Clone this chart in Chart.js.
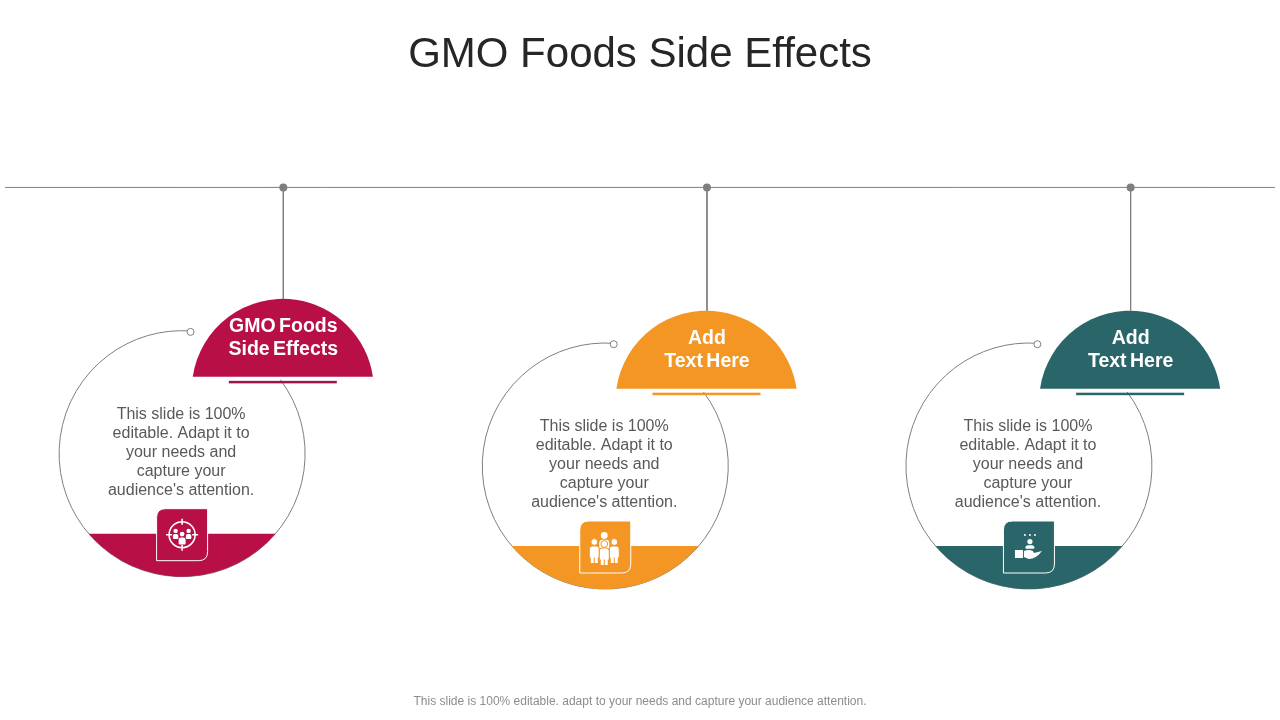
<!DOCTYPE html>
<html>
<head>
<meta charset="utf-8">
<title>GMO Foods Side Effects</title>
<script src="https://cdn.jsdelivr.net/npm/chart.js@4"></script>
<style>
  html, body { margin: 0; padding: 0; background: #fff; }
  canvas { display: block; }
</style>
</head>
<body>
<canvas id="slide" width="1280" height="720"></canvas>
<script>
const chartTitle = "GMO Foods Side Effects";
const footerText = "This slide is 100% editable. adapt to your needs and capture your audience attention.";

// One entry per hanging item
const headings = [["GMO Foods", "Side Effects"], ["Add", "Text Here"], ["Add", "Text Here"]];
const bodyLines = ["This slide is 100%", "editable. Adapt it to", "your needs and", "capture your", "audience's attention."];
const colors = ["#B80F47", "#F39623", "#2A6669"];
const barColors = ["#9E1549", "#F39623", "#2A6669"];

const hangX = [280.5, 707.5, 1134.5];
const hangEndY = [298, 310, 310];
const ringX = [178.5, 605, 1032];
const ringY = [455, 467.5, 467.5];
const ringGapX = [187, 613.5, 1040.5];
const ringGapY = [331.5, 344, 344];
const timelineX = [0, 1280];
const timelineY = [185, 185];

const gray = "#7F7F7F";
const ringR = 123;

function roundedTile(ctx, x, y, w, h, r) {
  ctx.beginPath();
  ctx.moveTo(x + r, y);
  ctx.lineTo(x + w, y);
  ctx.lineTo(x + w, y + h - r);
  ctx.quadraticCurveTo(x + w, y + h, x + w - r, y + h);
  ctx.lineTo(x, y + h);
  ctx.lineTo(x, y + r);
  ctx.quadraticCurveTo(x, y, x + r, y);
  ctx.closePath();
}

function person(ctx, cx, top, headR, bodyW, bodyH) {
  ctx.beginPath();
  ctx.arc(cx, top + headR, headR, 0, Math.PI * 2);
  ctx.fill();
  ctx.beginPath();
  ctx.roundRect(cx - bodyW / 2, top + headR * 2 + 1, bodyW, bodyH, [bodyW / 3, bodyW / 3, 1, 1]);
  ctx.fill();
}

function targetIcon(ctx, cx, cy) {
  ctx.strokeStyle = "#fff";
  ctx.lineWidth = 1.6;
  ctx.beginPath();
  ctx.arc(cx, cy, 13, 0, Math.PI * 2);
  ctx.moveTo(cx, cy - 16); ctx.lineTo(cx, cy - 10);
  ctx.moveTo(cx, cy + 10); ctx.lineTo(cx, cy + 16);
  ctx.moveTo(cx - 16, cy); ctx.lineTo(cx - 10, cy);
  ctx.moveTo(cx + 10, cy); ctx.lineTo(cx + 16, cy);
  ctx.stroke();
  ctx.fillStyle = "#fff";
  person(ctx, cx - 6.5, cy - 6, 2.2, 5.5, 5);
  person(ctx, cx + 6.5, cy - 6, 2.2, 5.5, 5);
  person(ctx, cx, cy - 3, 2.4, 7, 7);
}

function teamIcon(ctx, cx, cy, tile) {
  ctx.fillStyle = "#fff";
  person(ctx, cx, cy - 15, 3.4, 10, 9);
  ctx.strokeStyle = tile;
  ctx.lineWidth = 1;
  [[-10, -8], [10, -8], [0, -6]].forEach(([dx, dy]) => {
    ctx.beginPath();
    ctx.arc(cx + dx, cy + dy + 3, 3.4, 0, Math.PI * 2);
    ctx.fill();
    ctx.stroke();
    ctx.beginPath();
    ctx.roundRect(cx + dx - 5, cy + dy + 7, 10, 12, [3, 3, 0, 0]);
    ctx.fill();
    ctx.stroke();
    ctx.fillRect(cx + dx - 3.5, cy + dy + 18, 3, 6);
    ctx.fillRect(cx + dx + 0.5, cy + dy + 18, 3, 6);
  });
}

function handIcon(ctx, cx, cy) {
  ctx.fillStyle = "#fff";
  [-5, 0, 5].forEach((dx) => {
    ctx.beginPath();
    ctx.arc(cx + 2 + dx, cy - 11, 1, 0, Math.PI * 2);
    ctx.fill();
  });
  person(ctx, cx + 2, cy - 7, 2.6, 9, 3.5);
  ctx.fillRect(cx - 13, cy + 4, 8, 8);
  ctx.beginPath();
  ctx.moveTo(cx - 4, cy + 5);
  ctx.quadraticCurveTo(cx + 1, cy + 3, cx + 5, cy + 5);
  ctx.lineTo(cx + 6, cy + 7);
  ctx.lineTo(cx + 14, cy + 5);
  ctx.quadraticCurveTo(cx + 8, cy + 13, cx + 1, cy + 13);
  ctx.lineTo(cx - 4, cy + 11);
  ctx.closePath();
  ctx.fill();
}

const slidePlugin = {
  id: "slidePlugin",
  beforeDatasetsDraw(chart) {
    const ctx = chart.ctx;
    const xs = chart.scales.x;
    const ys = chart.scales.y;

    ctx.save();
    ctx.textAlign = "center";
    ctx.textBaseline = "middle";

    ctx.fillStyle = "#262626";
    ctx.font = '42px "Liberation Sans"';
    ctx.fillText(chartTitle, xs.getPixelForValue(640), ys.getPixelForValue(51));

    ctx.fillStyle = "#8C8C8C";
    ctx.font = '12px "Liberation Sans"';
    ctx.fillText(footerText, xs.getPixelForValue(640), ys.getPixelForValue(707));

    hangX.forEach((hx, i) => {
      const cx = xs.getPixelForValue(ringX[i]);
      const cy = ys.getPixelForValue(ringY[i]);
      const hangPx = xs.getPixelForValue(hx);
      const top = ys.getPixelForValue(hangEndY[i]);
      const color = colors[i];

      // open ring
      ctx.strokeStyle = gray;
      ctx.lineWidth = 1;
      ctx.beginPath();
      ctx.arc(cx, cy, ringR, -37 * Math.PI / 180, -86 * Math.PI / 180);
      ctx.stroke();

      // filled band at the bottom of the ring
      const bandY = cy + 80;
      ctx.fillStyle = color;
      ctx.beginPath();
      const a = Math.asin(80 / ringR);
      ctx.arc(cx, cy, ringR, a, Math.PI - a);
      ctx.closePath();
      ctx.fill();

      // body text
      ctx.fillStyle = "#595959";
      ctx.font = '16px "Liberation Sans"';
      bodyLines.forEach((line, n) => {
        ctx.fillText(line, cx - 1, cy - 39 + n * 19);
      });

      // icon tile
      ctx.fillStyle = color;
      ctx.strokeStyle = "#fff";
      ctx.lineWidth = 1;
      roundedTile(ctx, cx - 25.5, bandY - 25, 51, 52, 9);
      ctx.fill();
      ctx.stroke();
      if (i === 0) targetIcon(ctx, cx, bandY + 1);
      if (i === 1) teamIcon(ctx, cx - 1, bandY + 1, color);
      if (i === 2) handIcon(ctx, cx - 1, bandY);

      // dome, cut flat near the bottom of a circle
      const domeR = 91;
      const baseY = top + 78;
      const cut = Math.asin(13 / domeR);
      ctx.fillStyle = color;
      ctx.beginPath();
      ctx.arc(hangPx - 0.5, top + domeR, domeR, Math.PI + cut, -cut);
      ctx.closePath();
      ctx.fill();

      // bar under dome
      ctx.fillStyle = barColors[i];
      ctx.fillRect(hangPx - 54.5, baseY + 4, 108, 2.5);

      // heading
      ctx.fillStyle = "#fff";
      ctx.font = 'bold 19.5px "Liberation Sans"';
      ctx.wordSpacing = "-2px";
      ctx.fillText(headings[i][0], hangPx, top + 28);
      ctx.fillText(headings[i][1], hangPx, top + 51);
      ctx.wordSpacing = "0px";
    });
    ctx.restore();
  },
};

const stemSets = hangX.map((hx, i) => ({
  data: [{ x: hx, y: timelineY[0] }, { x: hx, y: hangEndY[i] }],
  showLine: true,
  borderColor: gray,
  borderWidth: 1,
  pointRadius: [4, 0],
  pointBackgroundColor: gray,
  pointBorderWidth: 0,
}));

new Chart(document.getElementById("slide"), {
  type: "scatter",
  data: {
    datasets: [
      {
        data: timelineX.map((x, i) => ({ x: x, y: timelineY[i] })),
        showLine: true,
        borderColor: gray,
        borderWidth: 1,
        pointRadius: 0,
      },
      ...stemSets,
      {
        data: ringGapX.map((x, i) => ({ x: x, y: ringGapY[i] })),
        showLine: false,
        pointRadius: 3.5,
        pointBackgroundColor: "#fff",
        pointBorderColor: gray,
        pointBorderWidth: 1,
      },
    ],
  },
  options: {
    responsive: false,
    animation: false,
    layout: { padding: 0 },
    plugins: { legend: { display: false }, tooltip: { enabled: false } },
    scales: {
      x: { type: "linear", min: 0, max: 1280, display: false },
      y: { type: "linear", min: 0, max: 720, reverse: true, display: false },
    },
  },
  plugins: [slidePlugin],
});
</script>
</body>
</html>
